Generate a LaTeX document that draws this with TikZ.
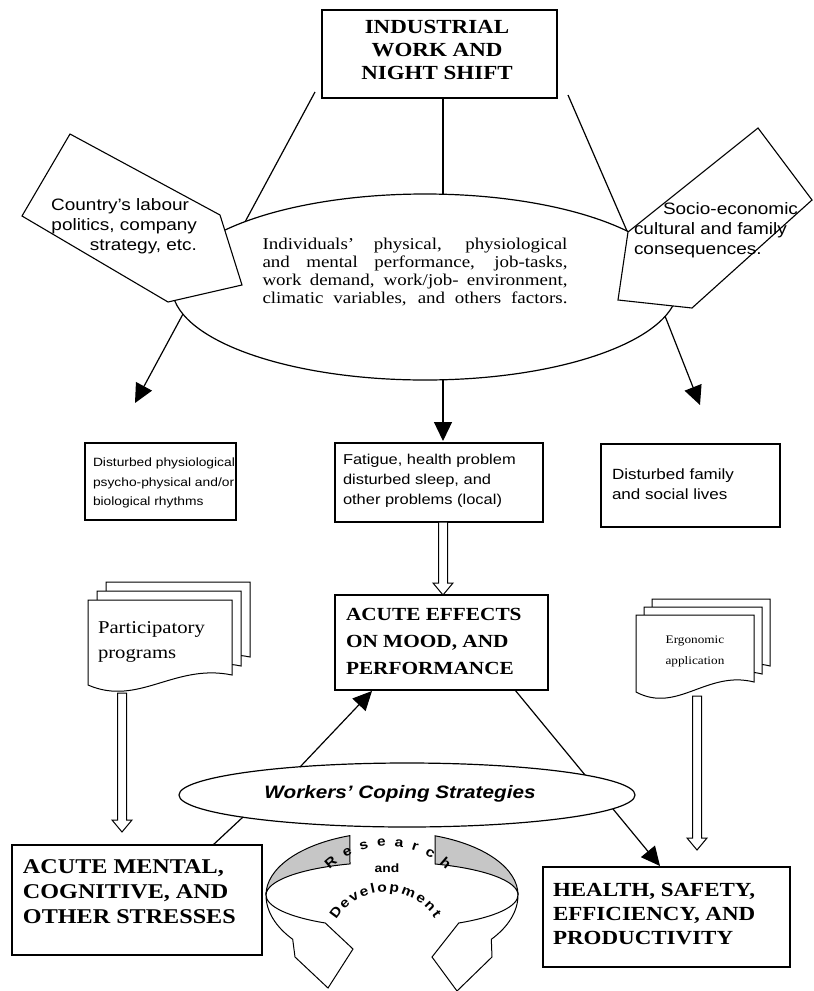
\documentclass[tikz,border=0pt]{standalone}
\usepackage{fontspec}
\setmainfont{Liberation Serif}[FakeStretch=1.15]
\setsansfont{Liberation Sans}[FakeStretch=1.15]
\usetikzlibrary{shapes.geometric,arrows.meta,decorations.text}
\newcommand\docpage[4]{%
  \filldraw[fill=white,line width=1pt] (#1,#2) -- (#1+#3,#2) -- (#1+#3,#2+#4-10)
  .. controls (#1+0.6*#3,#2+#4-22) and (#1+0.35*#3,#2+#4+22) .. (#1,#2+#4) -- cycle;}
\newcommand\hollowdown[3]{%
  \filldraw[fill=white,line width=1pt] (#1-4.5,#2) -- (#1+4.5,#2) -- (#1+4.5,#3-12) -- (#1+10,#3-12) -- (#1,#3) -- (#1-10,#3-12) -- (#1-4.5,#3-12) -- cycle;}
\begin{document}
\begin{tikzpicture}[x=1pt,y=-1pt,line width=1.1pt,
  every node/.style={inner sep=0pt,outer sep=0pt},
  frame/.style={draw,line width=1.2pt,fill=white},
  conn/.style={line width=1.2pt},
  arr/.style={line width=1.2pt,-{Triangle[length=19pt,width=18pt]}},
  pent/.style={fill=white,draw,line width=1.1pt},
  bigcaps/.style={font=\bfseries\fontsize{20}{23}\selectfont},
  pentxt/.style={font=\sffamily\fontsize{16.5}{20}\selectfont},
  rdtext/.style={decorate,decoration={text along path,text align={fit to path},text={|\sffamily\bfseries\fontsize{13.5}{13.5}\selectfont|#1}}}
 ]
\useasboundingbox (0,0) rectangle (814,991);

% ---------- top box
\node[frame,minimum width=235,minimum height=88,anchor=north west] (topbox) at (322,10) {};
\node[bigcaps,align=center] (toptxt) at (437,50) {INDUSTRIAL\\WORK AND\\NIGHT SHIFT};

\coordinate (tA) at (315,92);  \coordinate (eA) at (245,222);
\coordinate (tB) at (443,98);  \coordinate (eB) at (443,194);
\coordinate (tC) at (568,95);  \coordinate (eC) at (627,231);
\draw[conn] (tA) -- (eA);
\draw[conn] (tB) -- (eB);
\draw[conn] (tC) -- (eC);

% ---------- big ellipse and pentagons
\node[draw,ellipse,line width=1.2pt,fill=white,minimum width=506,minimum height=186] (big) at (425,287) {};
\draw[pent] (220,215) -- (70,134) -- (22,216) -- (168,302) -- (242,285) -- cycle;
\draw[pent] (628,232) -- (758,128) -- (812,200) -- (692,308) -- (618,300) -- cycle;

\node[pentxt,align=right,anchor=east] (ptL) at (197,226) {Country's labour\hspace*{8pt}\\politics, company\\strategy, etc.};
\node[pentxt,align=left,anchor=west] (ptR) at (634,230) {\hspace*{29pt}Socio-economic\\cultural and family\\consequences.};

\node[font=\fontsize{16.5}{18}\selectfont,align=left] (elltxt) at (415,272)
 {\makebox[305pt][s]{Individuals' physical, physiological}\\
  \makebox[305pt][s]{and mental performance, job-tasks,}\\
  \makebox[305pt][s]{work demand, work/job- environment,}\\
  \makebox[305pt][s]{climatic variables, and others factors.}};

% ---------- arrows to the three boxes
\coordinate (aL) at (183,314); \coordinate (aLt) at (135,403);
\coordinate (aC) at (443,380); \coordinate (aCt) at (443,441);
\coordinate (aR) at (665,316); \coordinate (aRt) at (700,405);
\draw[arr] (aL) -- (aLt);
\draw[arr] (aC) -- (aCt);
\draw[arr] (aR) -- (aRt);

\node[frame,minimum width=151,minimum height=77,anchor=north west] (boxL) at (85,443) {};
\node[frame,minimum width=208,minimum height=79,anchor=north west] (boxC) at (335,443) {};
\node[frame,minimum width=179,minimum height=83,anchor=north west] (boxR) at (601,444) {};
\node[font=\sffamily\fontsize{12}{19.5}\selectfont,align=left,anchor=west] (txL) at (93,483)
 {Disturbed physiological\\psycho-physical and/or\\biological rhythms};
\node[font=\sffamily\fontsize{14.3}{20}\selectfont,align=left,anchor=west] (txC) at (343,481)
 {Fatigue, health problem\\disturbed sleep, and\\other problems (local)};
\node[font=\sffamily\fontsize{14.8}{20}\selectfont,align=left,anchor=west] (txR) at (612,484)
 {Disturbed family\\and social lives};

% ---------- acute effects
\hollowdown{443}{522}{595}
\node[frame,minimum width=213,minimum height=95,anchor=north west] (acute) at (335,595) {};
\node[font=\bfseries\fontsize{18.5}{27}\selectfont,align=left,anchor=west] (acutetxt) at (346,641)
 {ACUTE EFFECTS\\ON MOOD, AND\\PERFORMANCE};

% ---------- document stacks
\docpage{106}{582}{144}{85}
\docpage{97}{591}{144}{85}
\docpage{88}{600}{144}{85}
\node[font=\fontsize{18}{25}\selectfont,align=left,anchor=west] (partxt) at (98,642) {Participatory\\programs};
\hollowdown{122}{693}{832}

\docpage{652}{599}{118}{77}
\docpage{644}{607}{118}{77}
\docpage{636}{615}{118}{77}
\node[font=\fontsize{11.5}{21}\selectfont,align=center] (ergtxt) at (695,651) {Ergonomic\\application};
\hollowdown{697}{696}{850}

% ---------- coping strategies
\coordinate (aE) at (515,690); \coordinate (aEt) at (660,866);
\draw[arr] (aE) -- (aEt);
\node[draw,ellipse,fill=white,line width=1.2pt,minimum width=456,minimum height=64] (cope) at (407,795) {};
\node[font=\sffamily\bfseries\itshape\fontsize{18}{20}\selectfont] (copetxt) at (400,794) {Workers' Coping Strategies};
\coordinate (cA) at (300,767); \coordinate (cAt) at (372,691);
\draw[arr] (cA) -- (cAt);
\coordinate (cB) at (243,817); \coordinate (cBt) at (213,845);
\draw[conn] (cB) -- (cBt);

% ---------- bottom boxes
\node[frame,minimum width=250,minimum height=110,anchor=north west] (mental) at (12,845) {};
\node[font=\bfseries\fontsize{21}{25}\selectfont,align=left,anchor=west] (mentaltxt) at (23,892)
 {ACUTE MENTAL,\\COGNITIVE, AND\\OTHER STRESSES};
\node[frame,minimum width=247,minimum height=100,anchor=north west] (health) at (543,867) {};
\node[font=\bfseries\fontsize{20}{24}\selectfont,align=left,anchor=west] (healthtxt) at (553,914)
 {HEALTH, SAFETY,\\EFFICIENCY, AND\\PRODUCTIVITY};

% ---------- research and development ring
\filldraw[fill=gray!45,line width=1pt] (266,895)
  arc[start angle=180,end angle=250.5,x radius=126,y radius=63] -- (350,863.9)
  arc[start angle=250.5,end angle=180,x radius=126,y radius=33] -- cycle;
\filldraw[fill=gray!45,line width=1pt] (435.1,835.8)
  arc[start angle=290,end angle=360,x radius=126,y radius=63]
  arc[start angle=360,end angle=290,x radius=126,y radius=33] -- cycle;
\filldraw[fill=white,line width=1pt] (266,895)
  arc[start angle=180,end angle=122,x radius=126,y radius=33]
  -- (353,949) -- (328,988) -- (295,957) -- (292.7,939.3)
  arc[start angle=142,end angle=180,x radius=126,y radius=72] -- cycle;
\filldraw[fill=white,line width=1pt] (518,895)
  arc[start angle=0,end angle=58,x radius=126,y radius=33]
  -- (432,957) -- (457,991) -- (492,957) -- (491.3,939.3)
  arc[start angle=38,end angle=0,x radius=126,y radius=72] -- cycle;

\coordinate (rdA) at (329.6,869.6);
\coordinate (rdB) at (336.3,920.1);
\path[rdtext=Research] (rdA) arc[start angle=226,end angle=314,radius=84];
\path[rdtext=Development] (rdB) arc[start angle=211,end angle=327,radius=58];
\node[font=\sffamily\bfseries\fontsize{12}{12}\selectfont] (andtxt) at (387,868) {and};
\end{tikzpicture}
\end{document}
